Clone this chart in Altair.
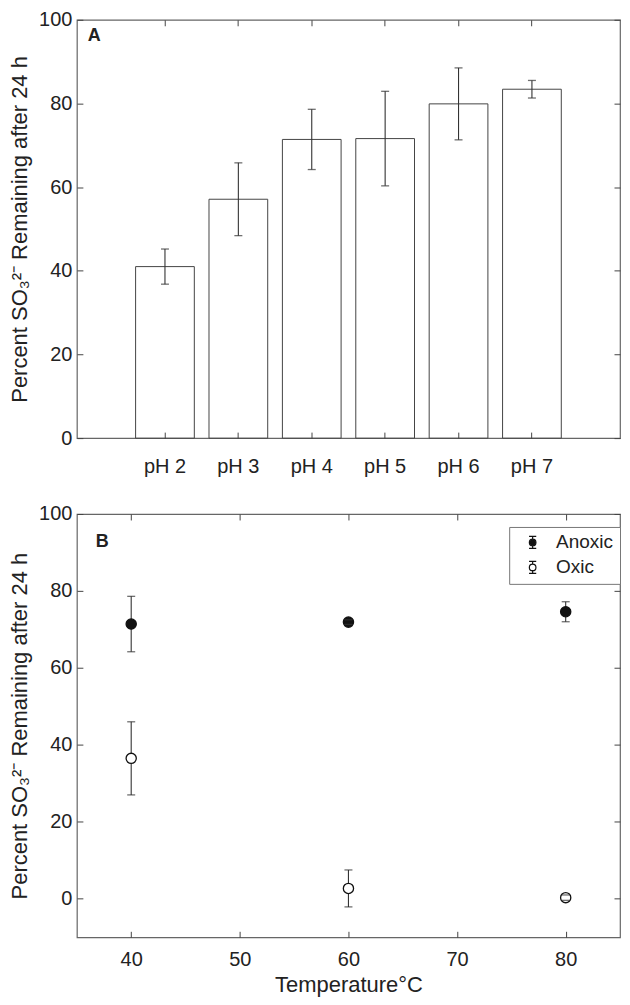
import altair as alt
import pandas as pd

# ---------------- data ----------------
ph_labels = ["pH 2", "pH 3", "pH 4", "pH 5", "pH 6", "pH 7"]
ph_mean = [41.0, 57.1, 71.4, 71.6, 79.9, 83.4]
ph_sd = [4.2, 8.7, 7.2, 11.3, 8.6, 2.1]

temps = [40, 60, 80]
anoxic_mean = [71.4, 71.9, 74.6]
anoxic_sd = [7.2, 0.6, 2.6]
oxic_mean = [36.5, 2.7, 0.3]
oxic_sd = [9.5, 4.8, 0.7]

conditions = ["Anoxic", "Oxic"]
panel_labels = ["A", "B"]

y_title = "Percent SO\u2083\u00b2\u207b  Remaining after 24 h"
x_title_b = "Temperature\u00b0C"

FONT = "Liberation Sans"
TXT = "#222222"
ERR = "#333333"

dfA = pd.DataFrame({
    "ph": ph_labels,
    "mean": ph_mean,
    "lo": [m - s for m, s in zip(ph_mean, ph_sd)],
    "hi": [m + s for m, s in zip(ph_mean, ph_sd)],
})

rows = []
for cond, means, sds in [("Anoxic", anoxic_mean, anoxic_sd), ("Oxic", oxic_mean, oxic_sd)]:
    for t, m, s in zip(temps, means, sds):
        rows.append({"temp": t, "cond": cond, "mean": m, "lo": m - s, "hi": m + s})
dfB = pd.DataFrame(rows)

WA, HA = 544, 419
WB, HB = 544, 424
PAD = {"top": 0, "left": 0, "right": 0, "bottom": 0}

def tick_axis(orient, offset, values=None):
    kw = dict(orient=orient, offset=offset, labels=False, title=None, ticks=True,
              tickSize=6, tickColor="#444", domain=False, grid=False, zindex=2)
    if values is not None:
        kw["values"] = values
    return alt.Axis(**kw)

# ---------------- panel A ----------------
xA_scale = alt.Scale(domain=ph_labels, paddingInner=0.2, paddingOuter=0.8)
yA_scale = alt.Scale(domain=[0, 100], nice=False)
yvalsA = [0, 20, 40, 60, 80, 100]

barsA = alt.Chart(dfA).mark_bar(fill="white", stroke="#444", strokeWidth=1).encode(
    x=alt.X("ph:N", scale=xA_scale, sort=ph_labels,
            axis=alt.Axis(orient="bottom", title=None, labelAngle=0, ticks=False, domain=False,
                          labelPadding=18)),
    y=alt.Y("mean:Q", scale=yA_scale,
            axis=alt.Axis(orient="left", title=y_title, values=yvalsA,
                          ticks=False, domain=False, labelPadding=5, titlePadding=7)),
)
rulesA = alt.Chart(dfA).mark_rule(color=ERR, strokeWidth=1.1).encode(
    x=alt.X("ph:N", scale=xA_scale, sort=ph_labels, axis=tick_axis("top", -HA)),
    y=alt.Y("lo:Q", scale=yA_scale, axis=tick_axis("right", -WA, yvalsA)),
    y2="hi:Q",
)
capsLoA = alt.Chart(dfA).mark_tick(orient="horizontal", size=8, thickness=1.3, color=ERR).encode(
    x=alt.X("ph:N", scale=xA_scale, sort=ph_labels, axis=tick_axis("bottom", -HA)),
    y=alt.Y("lo:Q", scale=yA_scale, axis=tick_axis("left", -WA, yvalsA)),
)
capsHiA = alt.Chart(dfA).mark_tick(orient="horizontal", size=8, thickness=1.3, color=ERR).encode(
    x=alt.X("ph:N", scale=xA_scale, sort=ph_labels, axis=None),
    y=alt.Y("hi:Q", scale=yA_scale, axis=None),
)
labelA = alt.Chart(pd.DataFrame({"t": [panel_labels[0]]})).mark_text(
    align="left", baseline="alphabetic", fontWeight="bold", fontSize=18, font=FONT, color=TXT
).encode(x=alt.value(11), y=alt.value(21), text="t:N")

panelA = alt.layer(barsA, rulesA, capsLoA, capsHiA, labelA).resolve_axis(
    x="independent", y="independent").properties(width=WA, height=HA)

# ---------------- panel B ----------------
xB_scale = alt.Scale(domain=[35, 85], nice=False)
yB_scale = alt.Scale(domain=[-10, 100], nice=False)
xvals = [40, 50, 60, 70, 80]
yvals = [0, 20, 40, 60, 80, 100]

sym_path = ("M0,-1L0,-0.55M-0.6,-1L0.6,-1M0,0.55L0,1M-0.6,1L0.6,1"
            "M-0.55,0A0.55,0.55 0 1,0 0.55,0A0.55,0.55 0 1,0 -0.55,0Z")

rulesB = alt.Chart(dfB).mark_rule(color=ERR, strokeWidth=1.1).encode(
    x=alt.X("temp:Q", scale=xB_scale,
            axis=alt.Axis(orient="bottom", title=x_title_b, values=xvals, ticks=False, domain=False,
                          labelPadding=12, titlePadding=5)),
    y=alt.Y("lo:Q", scale=yB_scale,
            axis=alt.Axis(orient="left", title=y_title, values=yvals, ticks=False, domain=False,
                          labelPadding=5, titlePadding=7)),
    y2="hi:Q",
)
pointsB = alt.Chart(dfB).mark_point(shape="circle", size=105, stroke="#111", strokeWidth=1.3,
                                    opacity=1, fillOpacity=1).encode(
    x=alt.X("temp:Q", scale=xB_scale, axis=None),
    y=alt.Y("mean:Q", scale=yB_scale, axis=None),
    fill=alt.Fill("cond:N", scale=alt.Scale(domain=conditions, range=["#111111", "#ffffff"]),
                  legend=alt.Legend(title=None, orient="none", legendX=433, legendY=508,
                                    symbolType=sym_path, symbolSize=144, symbolStrokeColor="#111",
                                    symbolStrokeWidth=1.2, labelFont=FONT, labelFontSize=19,
                                    labelColor=TXT, strokeColor="#777", fillColor="white",
                                    padding=6, rowPadding=5, symbolOffset=8, labelOffset=14)),
)
capsLoB = alt.Chart(dfB).mark_tick(orient="horizontal", size=8, thickness=1.3, color=ERR).encode(
    x=alt.X("temp:Q", scale=xB_scale, axis=tick_axis("top", -HB, xvals)),
    y=alt.Y("lo:Q", scale=yB_scale, axis=tick_axis("right", -WB, yvals)),
)
capsHiB = alt.Chart(dfB).mark_tick(orient="horizontal", size=8, thickness=1.3, color=ERR).encode(
    x=alt.X("temp:Q", scale=xB_scale, axis=tick_axis("bottom", -HB, xvals)),
    y=alt.Y("hi:Q", scale=yB_scale, axis=tick_axis("left", -WB, yvals)),
)
labelB = alt.Chart(pd.DataFrame({"t": [panel_labels[1]]})).mark_text(
    align="left", baseline="alphabetic", fontWeight="bold", fontSize=18, font=FONT, color=TXT
).encode(x=alt.value(19), y=alt.value(33), text="t:N")

panelB = alt.layer(rulesB, pointsB, capsLoB, capsHiB, labelB).resolve_axis(
    x="independent", y="independent").properties(width=WB, height=HB)

chart = alt.vconcat(panelA, panelB, spacing=26).properties(
    padding=PAD
).configure(padding=PAD).configure_view(stroke="#666", strokeWidth=1.2).configure_axis(
    labelFont=FONT, labelFontSize=20, labelColor=TXT,
    titleFont=FONT, titleFontSize=22, titleFontWeight="normal", titleColor=TXT,
    grid=False,
)

chart.save("out.html", embed_options={"renderer": "svg", "actions": False})
